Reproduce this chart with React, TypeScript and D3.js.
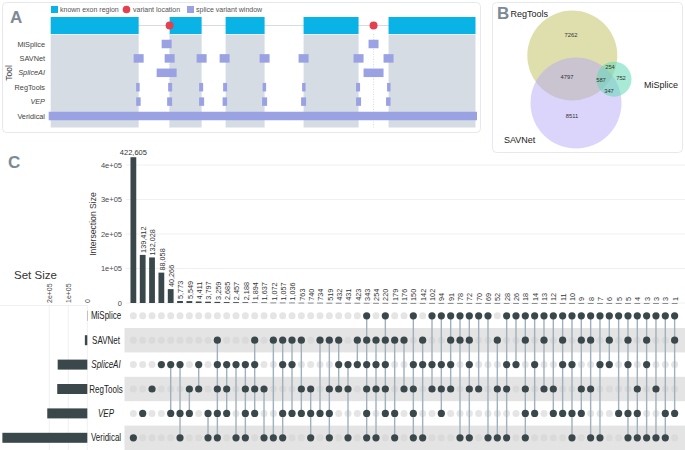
import React from 'react';
import * as d3 from 'd3';

// ---- panel A: gene model (coordinates in arbitrary bp units along the gene)
const tools = ['MiSplice', 'SAVNet', 'SpliceAI', 'RegTools', 'VEP', 'Veridical'];
const italicTools = ['SpliceAI', 'VEP'];
const exons = [[2, 90], [121, 153], [177, 216], [255, 310], [340, 427]];
const variants = [121, 325];
const windowsMiSplice = [[113, 123], [320, 330]];
const windowsSAVNet = [[85, 95], [116, 126], [148, 158], [171, 181], [211, 221], [250, 260], [305, 315], [335, 345]];
const windowsSpliceAI = [[108, 128], [315, 335]];
const windowsRegTools = [[87.5, 91], [119.5, 123.5], [150.5, 154.5], [174.5, 178.5], [214, 217.5], [253.5, 257], [307.5, 311.5], [338.5, 342]];
const windowsVEP = [[87.5, 92], [118.5, 123.5], [150.5, 155.5], [174, 178.5], [213.5, 218.5], [252.5, 257.5], [307.5, 312.5], [337.5, 342]];
const windowsVeridical = [[0, 428.5]];

// ---- panel B: venn region counts
const vennLabels = ['RegTools', 'SAVNet', 'MiSplice'];
const vennCounts = [7262, 4797, 8511, 254, 587, 752, 347];

// ---- panel C: upset
const setNames = ['MiSplice', 'SAVNet', 'SpliceAI', 'RegTools', 'VEP', 'Veridical'];
const intersectionSizes = [
  422605, 139412, 132028, 88058, 40266, 5773, 5549, 4411, 3797, 3259, 2685, 2457, 2188, 1894, 1637,
  1072, 1057, 1036, 763, 740, 734, 519, 432, 431, 423, 343, 254, 220, 179, 176, 150, 142, 102, 94,
  91, 78, 72, 70, 69, 52, 28, 26, 18, 14, 13, 12, 11, 10, 9, 8, 7, 6, 5, 5, 4, 3, 3, 3, 1,
];
// M=MiSplice S=SAVNet A=SpliceAI R=RegTools V=VEP D=Veridical
const intersectionMembers = [
  'D', 'V', 'R', 'A', 'AV', 'AVD', 'RV', 'AR', 'VD', 'SARVD', 'ARV', 'AD', 'ARVD', 'SARV', 'RD',
  'SD', 'SAVD', 'SAV', 'SRV', 'RVD', 'SV', 'SRVD', 'SAR', 'ARD', 'SA', 'MSARVD', 'SARD', 'MSARV', 'SVD', 'SR', 'MARVD', 'SAD', 'MAR', 'MARV',
  'MSAR', 'MSD', 'MSARD', 'MR', 'MD', 'SRD', 'MARD', 'MA', 'MSRVD', 'MAV', 'MSR', 'MRV', 'MSAV', 'MAVD', 'MSRV', 'MSRD', 'MAD', 'MSA', 'MV', 'MSAVD', 'MRVD', 'MSAD', 'MRD', 'MVD', 'MSV',
];
const setCodes = ['M', 'S', 'A', 'R', 'V', 'D'];
const intersectionTicks = [0, 1e5, 2e5, 3e5, 4e5];
const setSizeTicks = [0, 1e5, 2e5];

const DARK = '#3b484b';
const LINE = '#9fb1bf';
const PANEL_LABEL = '#7d8a96';
const sans = '"Liberation Sans", Arial, Helvetica, sans-serif';

const fmtE = (v: number) => (v === 0 ? '0' : `${v / 1e5}e+05`);

function PanelA() {
  const x = d3.scaleLinear().domain([0, 428.5]).range([48.7, 477]);
  const y = d3.scalePoint<string>().domain(tools).range([44, 116]);
  const windows: Record<string, number[][]> = {
    MiSplice: windowsMiSplice, SAVNet: windowsSAVNet, SpliceAI: windowsSpliceAI,
    RegTools: windowsRegTools, VEP: windowsVEP, Veridical: windowsVeridical,
  };
  const rh = 8.5;
  return (
    <g>
      <rect x={2.5} y={2.5} width={478} height={130} rx={4} fill="#fff" stroke="#e4e9ef" />
      <text x={10} y={23} fontSize={17} fontWeight="bold" fill={PANEL_LABEL} fontFamily={sans}>A</text>
      {/* legend */}
      <g fontFamily={sans} fontSize={7} fill="#555">
        <rect x={51} y={6} width={7} height={7} fill="#09b3e6" />
        <text x={60} y={12.3}>known exon region</text>
        <circle cx={126.5} cy={9.5} r={3.8} fill="#e5404f" />
        <text x={133} y={12.3}>variant location</text>
        <rect x={187} y={6} width={7} height={7} fill="#9aa2e4" />
        <text x={196} y={12.3}>splice variant window</text>
      </g>
      {/* intron line */}
      <line x1={x(exons[0][0])} x2={x(exons[exons.length - 1][1])} y1={25.5} y2={25.5} stroke="#d6dbe1" strokeWidth={1} />
      {exons.map((e, i) => (
        <g key={i}>
          <rect x={x(e[0])} y={34.5} width={x(e[1]) - x(e[0])} height={93} fill="#d5dce4" />
          <rect x={x(e[0])} y={17} width={x(e[1]) - x(e[0])} height={17} fill="#09b3e6" />
        </g>
      ))}
      {variants.map((v, i) => (
        <line key={i} x1={x(v)} x2={x(v)} y1={34} y2={128} stroke="#c9d3dc" strokeWidth={0.8} strokeDasharray="1 1.5" />
      ))}
      {tools.map((t) =>
        windows[t].map((w, i) => (
          <rect key={t + i} x={x(w[0])} y={(y(t) as number) - rh / 2} width={x(w[1]) - x(w[0])} height={rh} fill="#9aa2e4" />
        )),
      )}
      {variants.map((v, i) => (
        <circle key={i} cx={x(v)} cy={25.5} r={4} fill="#e5404f" />
      ))}
      <g fontFamily={sans} fontSize={7.3} fill="#444" textAnchor="end">
        {tools.map((t) => (
          <text key={t} x={45} y={(y(t) as number) + 2.6} fontStyle={italicTools.includes(t) ? 'italic' : 'normal'}>{t}</text>
        ))}
      </g>
      <text transform="translate(12,73) rotate(-90)" textAnchor="middle" fontFamily={sans} fontSize={8.5} fill="#444">Tool</text>
    </g>
  );
}

function PanelB() {
  // circle layout (RegTools, SAVNet, MiSplice)
  const circles = [
    { cx: 572.3, cy: 55.5, r: 45, fill: '#c4c46a', op: 0.55 },
    { cx: 576, cy: 103, r: 45.5, fill: '#b3a6f6', op: 0.48 },
    { cx: 614, cy: 79.2, r: 17.5, fill: '#62d9b6', op: 0.55 },
  ];
  const countPos = [[571, 37], [567, 79], [572, 118], [610, 69], [601, 82], [621, 80], [609, 93]];
  return (
    <g>
      <rect x={492.5} y={2.5} width={190} height={150} rx={4} fill="#fff" stroke="#e4e9ef" />
      <text x={497} y={19} fontSize={17} fontWeight="bold" fill={PANEL_LABEL} fontFamily={sans}>B</text>
      {circles.map((c, i) => (
        <circle key={i} cx={c.cx} cy={c.cy} r={c.r} fill={c.fill} fillOpacity={c.op} />
      ))}
      <g fontFamily={sans} fontSize={9} fill="#222">
        <text x={510.5} y={17}>{vennLabels[0]}</text>
        <text x={504} y={142.5}>{vennLabels[1]}</text>
        <text x={644} y={87.5}>{vennLabels[2]}</text>
      </g>
      <g fontFamily={sans} fontSize={5.8} fill="#333" textAnchor="middle">
        {vennCounts.map((c, i) => (
          <text key={i} x={countPos[i][0]} y={countPos[i][1]}>{c}</text>
        ))}
      </g>
    </g>
  );
}

function PanelC() {
  const ids = intersectionSizes.map((_, i) => i);
  const xc = d3.scalePoint<number>().domain(ids).range([128.7, 679.3]).padding(0.5);
  const step = xc.step();
  const bw = step * 0.62;
  const yb = d3.scaleLinear().domain([0, 4e5]).range([303, 165]);
  const ys = d3.scaleBand<string>().domain(setNames).range([303.6, 450]);
  const rowY = (s: string) => (ys(s) as number) + ys.bandwidth() / 2;
  const xs = d3.scaleLinear().domain([0, 2e5]).range([87.3, 49.3]);
  const setSizes = setNames.map((s, k) =>
    d3.sum(intersectionSizes.filter((_, i) => intersectionMembers[i].includes(setCodes[k]))),
  );
  const fmt = d3.format(',');
  return (
    <g fontFamily={sans}>
      <text x={8} y={168} fontSize={17} fontWeight="bold" fill={PANEL_LABEL}>C</text>
      {/* intersection bars */}
      {intersectionTicks.map((t) => (
        <g key={t}>
          <line x1={126} x2={685} y1={yb(t)} y2={yb(t)} stroke="#ececec" strokeWidth={0.8} />
          <text x={122} y={yb(t) + 2.5} textAnchor="end" fontSize={7.5} fill="#4a4a4a">{fmtE(t)}</text>
        </g>
      ))}
      <text transform="translate(96,224) rotate(-90)" textAnchor="middle" fontSize={8.6} fill="#333">Intersection Size</text>
      {intersectionSizes.map((v, i) => (
        <rect key={i} x={(xc(i) as number) - bw / 2} y={yb(v)} width={bw} height={Math.max(0.6, yb(0) - yb(v))} fill={DARK} />
      ))}
      <g fontSize={7.3} fill="#333">
        {intersectionSizes.map((v, i) =>
          i === 0 ? (
            <text key={i} x={xc(i)} y={155} textAnchor="middle" fontSize={7.5}>{fmt(v)}</text>
          ) : (
            <text key={i} transform={`translate(${(xc(i) as number) + 0.6},${yb(v) - 2}) rotate(-90)`} dy="0.35em">{fmt(v)}</text>
          ),
        )}
      </g>
      {/* set size */}
      <text x={14} y={279} fontSize={11.5} fill="#333">Set Size</text>
      {setSizeTicks.map((t) => (
        <g key={t}>
          <line x1={xs(t)} x2={xs(t)} y1={305} y2={450} stroke="#ececec" strokeWidth={0.8} />
          <text transform={`translate(${xs(t) + 2.5},303) rotate(-90)`} fontSize={7} fill="#4a4a4a">{fmtE(t)}</text>
        </g>
      ))}
      <line x1={0} x2={88} y1={305.5} y2={305.5} stroke="#ececec" strokeWidth={0.8} />
      {setNames.map((s, k) => (
        <rect key={s} x={xs(setSizes[k])} y={rowY(s) - 5} width={xs(0) - xs(setSizes[k])} height={10} fill={DARK} />
      ))}
      {/* matrix */}
      {setNames.map((s, k) =>
        k % 2 === 1 ? <rect key={s} x={124.5} y={ys(s)} width={561} height={ys.bandwidth()} fill="#e4e4e4" /> : null,
      )}
      {setNames.map((s) => (
        <text key={s} transform={`translate(106,${rowY(s) + 3.5}) scale(0.8,1)`} textAnchor="middle" fontSize={10} fill="#222"
          fontStyle={italicTools.includes(s) ? 'italic' : 'normal'}>{s}</text>
      ))}
      {intersectionMembers.map((m, i) =>
        setNames.map((s, k) =>
          m.includes(setCodes[k]) ? null : (
            <circle key={`${i}-${s}`} cx={xc(i)} cy={rowY(s)} r={3.5} fill="#d3d3d3" fillOpacity={0.6} />
          ),
        ),
      )}
      {intersectionMembers.map((m, i) => {
        const rows = setNames.filter((_, k) => m.includes(setCodes[k])).map(rowY);
        return (
          <g key={i}>
            {rows.length > 1 ? (
              <line x1={xc(i)} x2={xc(i)} y1={d3.min(rows)} y2={d3.max(rows)} stroke={LINE} strokeWidth={1.4} />
            ) : null}
            {rows.map((ry, j) => (
              <circle key={j} cx={xc(i)} cy={ry} r={3.6} fill={DARK} />
            ))}
          </g>
        );
      })}
    </g>
  );
}

export default function App() {
  return (
    <svg width={685} height={450} style={{ position: 'fixed', left: 0, top: 0, background: '#fff' }}>
      <PanelA />
      <PanelB />
      <PanelC />
    </svg>
  );
}
